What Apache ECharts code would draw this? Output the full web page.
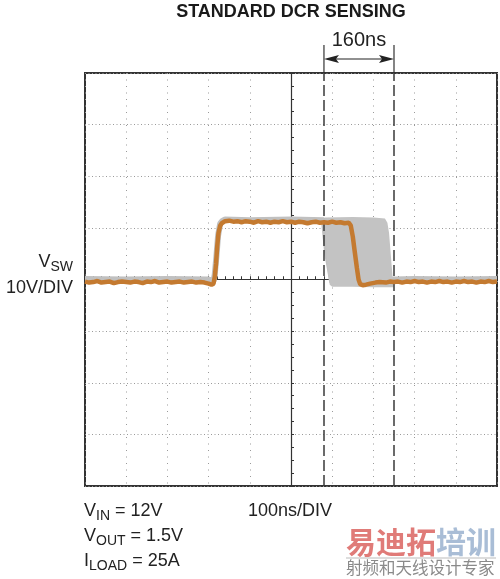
<!DOCTYPE html>
<html><head><meta charset="utf-8">
<script src="https://cdn.jsdelivr.net/npm/echarts@6/dist/echarts.min.js"></script>
<style>html,body{margin:0;padding:0;background:#fff}#c{width:500px;height:579px}</style>
</head><body><div id="c"></div>
<script>
// ---- data (time in ns, voltage in V) ----
const orangeT = [-500,-490,-480,-470,-460,-450,-440,-430,-420,-410,-400,-390,-380,-370,-360,-350,-340,-330,-320,-310,-300,-290,-280,-270,-260,-250,-240,-230,-220,-210,-200,-193,-188,
  -185,-182,-179,-176,-172,-168,-164,-160,
  -150,-140,-130,-120,-110,-100,-90,-80,-70,-60,-50,-40,-30,-20,-10,0,10,20,30,40,50,60,70,80,90,100,110,120,130,140,
  145,150,155,160,164,168,174,182,192,205,215,
  230,240,250,260,270,280,290,300,310,320,330,340,350,360,370,380,390,400,410,420,430,440,450,460,470,480,490,500];
const orangeV = [-0.4,-0.6,-0.5,-0.3,-0.6,-0.5,-0.4,-0.7,-0.5,-0.4,-0.5,-0.6,-0.4,-0.5,-0.7,-0.4,-0.5,-0.3,-0.6,-0.5,-0.4,-0.6,-0.5,-0.4,-0.6,-0.5,-0.4,-0.6,-0.5,-0.6,-0.8,-1.0,-0.8,
  0.5,3.0,6.5,9.0,10.4,10.9,11.2,11.3,
  11.4,11.2,11.3,11.1,11.3,11.2,11.0,11.3,11.1,11.2,11.0,11.2,11.1,11.3,11.1,11.2,11.0,11.2,11.1,10.9,11.1,11.2,11.0,11.1,11.0,11.2,11.0,11.1,10.9,11.0,
  10.5,8.3,5.2,2.2,0.0,-0.9,-1.1,-1.0,-0.8,-0.6,-0.5,
  -0.6,-0.4,-0.5,-0.4,-0.6,-0.4,-0.5,-0.3,-0.5,-0.4,-0.6,-0.4,-0.5,-0.3,-0.5,-0.4,-0.6,-0.4,-0.5,-0.3,-0.5,-0.4,-0.6,-0.4,-0.5,-0.3,-0.5,-0.4];

const grayT = [-500,-400,-300,-200,-188,-185,-181,-177,-172,-166,-160,-100,0,80,88,100,250,300,400,500];
const grayV = [0.1,0.0,0.1,0.0,-0.3,1.0,4.5,8.5,10.8,11.4,11.6,11.5,11.6,11.5,5.0,-0.5,0.0,0.1,0.0,0.1];

const envT = [82,150,200,228,234,238,241,244,247,249,249,200,150,100,94,90,87,85,83];
const envV = [12.0,12.1,12.0,11.8,11.0,9.0,6.0,3.0,0.0,-1.2,-1.5,-1.5,-1.4,-1.4,-1.0,1.0,4.0,8.0,11.0];

const cursorsNs = [80, 250];
const cursorLabel = '160ns';
const xRange = [-500, 500], xStep = 100;
const yRange = [-40, 40], yStep = 10;

const FONT = '"Liberation Sans", Arial, sans-serif';
const CJK = '"Noto Sans CJK SC", sans-serif';
const pairs = (t, v) => t.map((x, i) => [x, v[i]]);

const chart = echarts.init(document.getElementById('c'));
const tickStyle = {color: '#333', width: 1};
const baseX = {type: 'value', min: xRange[0], max: xRange[1], interval: xStep, axisLabel: {show: false}};
const baseY = {type: 'value', min: yRange[0], max: yRange[1], interval: yStep, axisLabel: {show: false}};

chart.setOption({
  animation: false,
  grid: {left: 85, top: 73, width: 412, height: 413, show: true, borderColor: '#333', borderWidth: 2, backgroundColor: 'transparent'},
  xAxis: [
    Object.assign({}, baseX, {
      axisLine: {show: true, onZero: true, lineStyle: {color: '#333', width: 1.2}},
      axisTick: {show: true, inside: true, length: 3, lineStyle: tickStyle},
      minorTick: {show: true, splitNumber: 5, length: 3, lineStyle: tickStyle},
      splitLine: {show: true, lineStyle: {color: '#9a9a9a', width: 1, type: [1, 5.5]}}
    }),
    Object.assign({}, baseX, {
      axisLine: {show: false, onZero: true},
      axisTick: {show: true, inside: false, length: 3, lineStyle: tickStyle},
      minorTick: {show: true, splitNumber: 5, length: 3, lineStyle: tickStyle},
      splitLine: {show: false}
    })
  ],
  yAxis: [
    Object.assign({}, baseY, {
      axisLine: {show: true, onZero: true, lineStyle: {color: '#333', width: 1.2}},
      axisTick: {show: true, inside: true, length: 3, lineStyle: tickStyle},
      minorTick: {show: true, splitNumber: 4, length: 3, lineStyle: tickStyle},
      splitLine: {show: true, lineStyle: {color: '#9a9a9a', width: 1, type: [1, 2.5]}}
    }),
    Object.assign({}, baseY, {
      axisLine: {show: false, onZero: true},
      axisTick: {show: true, inside: false, length: 3, lineStyle: tickStyle},
      minorTick: {show: true, splitNumber: 4, length: 3, lineStyle: tickStyle},
      splitLine: {show: false}
    })
  ],
  series: [
    {type: 'line', data: pairs(grayT, grayV), showSymbol: false, z: 2,
     lineStyle: {color: '#c0c0c0', width: 6}},
    {type: 'custom', z: 3, data: [[0, 0]],
     renderItem: function (params, api) {
       return {type: 'polygon', shape: {points: envT.map((t, i) => api.coord([t, envV[i]]))},
               style: {fill: '#c3c3c3'}};
     }},
    {type: 'line', data: pairs(orangeT, orangeV), showSymbol: false, z: 5,
     lineStyle: {color: '#c47a30', width: 4.5}},
    {type: 'line', data: [], z: 6,
     markLine: {symbol: 'none', silent: true, label: {show: false},
       lineStyle: {color: '#3a3a3a', type: [11, 4], width: 1.5},
       data: cursorsNs.map(v => ({xAxis: v}))}}
  ]
});

const px1 = chart.convertToPixel({xAxisIndex: 0}, cursorsNs[0]);
const px2 = chart.convertToPixel({xAxisIndex: 0}, cursorsNs[1]);
const topPx = chart.convertToPixel({yAxisIndex: 0}, yRange[1]);
const arrowY = 59;
const cx = chart.convertToPixel({xAxisIndex: 0}, 0);

const txt = (x, y, text, opts) => ({type: 'text', x: x, y: y, z: 20,
  style: Object.assign({text: text, font: '18px ' + FONT, fill: '#222', textVerticalAlign: 'middle'}, opts || {})});
const subRich = {
  m: {fontSize: 18, fontFamily: FONT, lineHeight: 24, verticalAlign: 'middle', fill: '#222', color: '#222'},
  s: {fontSize: 14, fontFamily: FONT, lineHeight: 14, verticalAlign: 'bottom', fill: '#222', color: '#222'}
};

chart.setOption({
  graphic: [
    txt(cx, 12, 'STANDARD DCR SENSING', {font: 'bold 18px ' + FONT, textAlign: 'center', fill: '#1a1a1a'}),
    txt((px1 + px2) / 2, 40, cursorLabel, {font: '20px ' + FONT, textAlign: 'center'}),
    {type: 'line', z: 20, shape: {x1: px1, y1: 45, x2: px1, y2: topPx}, style: {stroke: '#333', lineWidth: 1.2}},
    {type: 'line', z: 20, shape: {x1: px2, y1: 45, x2: px2, y2: topPx}, style: {stroke: '#333', lineWidth: 1.2}},
    {type: 'line', z: 20, shape: {x1: px1 + 4, y1: arrowY, x2: px2 - 4, y2: arrowY}, style: {stroke: '#222', lineWidth: 1.2}},
    {type: 'polygon', z: 20, shape: {points: [[px1, arrowY], [px1 + 15, arrowY - 4], [px1 + 12, arrowY], [px1 + 15, arrowY + 4]]}, style: {fill: '#222'}},
    {type: 'polygon', z: 20, shape: {points: [[px2, arrowY], [px2 - 15, arrowY - 4], [px2 - 12, arrowY], [px2 - 15, arrowY + 4]]}, style: {fill: '#222'}},
    txt(73, 262, '{m|V}{s|SW}', {rich: subRich, textAlign: 'right'}),
    txt(73, 288, '10V/DIV', {textAlign: 'right'}),
    txt(84, 511, '{m|V}{s|IN}{m| = 12V}', {rich: subRich}),
    txt(84, 536, '{m|V}{s|OUT}{m| = 1.5V}', {rich: subRich}),
    txt(84, 561, '{m|I}{s|LOAD}{m| = 25A}', {rich: subRich}),
    txt(248, 511, '100ns/DIV'),
    txt(346, 542, '{r|易迪拓}{b|培训}', {rich: {
      r: {fontSize: 30, fontWeight: 'bold', fontFamily: CJK, fill: '#e07b78', color: '#e07b78'},
      b: {fontSize: 30, fontWeight: 'bold', fontFamily: CJK, fill: '#a9bdd6', color: '#a9bdd6'}}}),
    {type: 'line', z: 20, shape: {x1: 346, y1: 558, x2: 496, y2: 558}, style: {stroke: '#bbb', lineWidth: 1}},
    txt(346, 568, '射频和天线设计专家', {font: '16.5px ' + CJK, fill: '#8a8a8a'})
  ]
});
</script>
</body></html>
